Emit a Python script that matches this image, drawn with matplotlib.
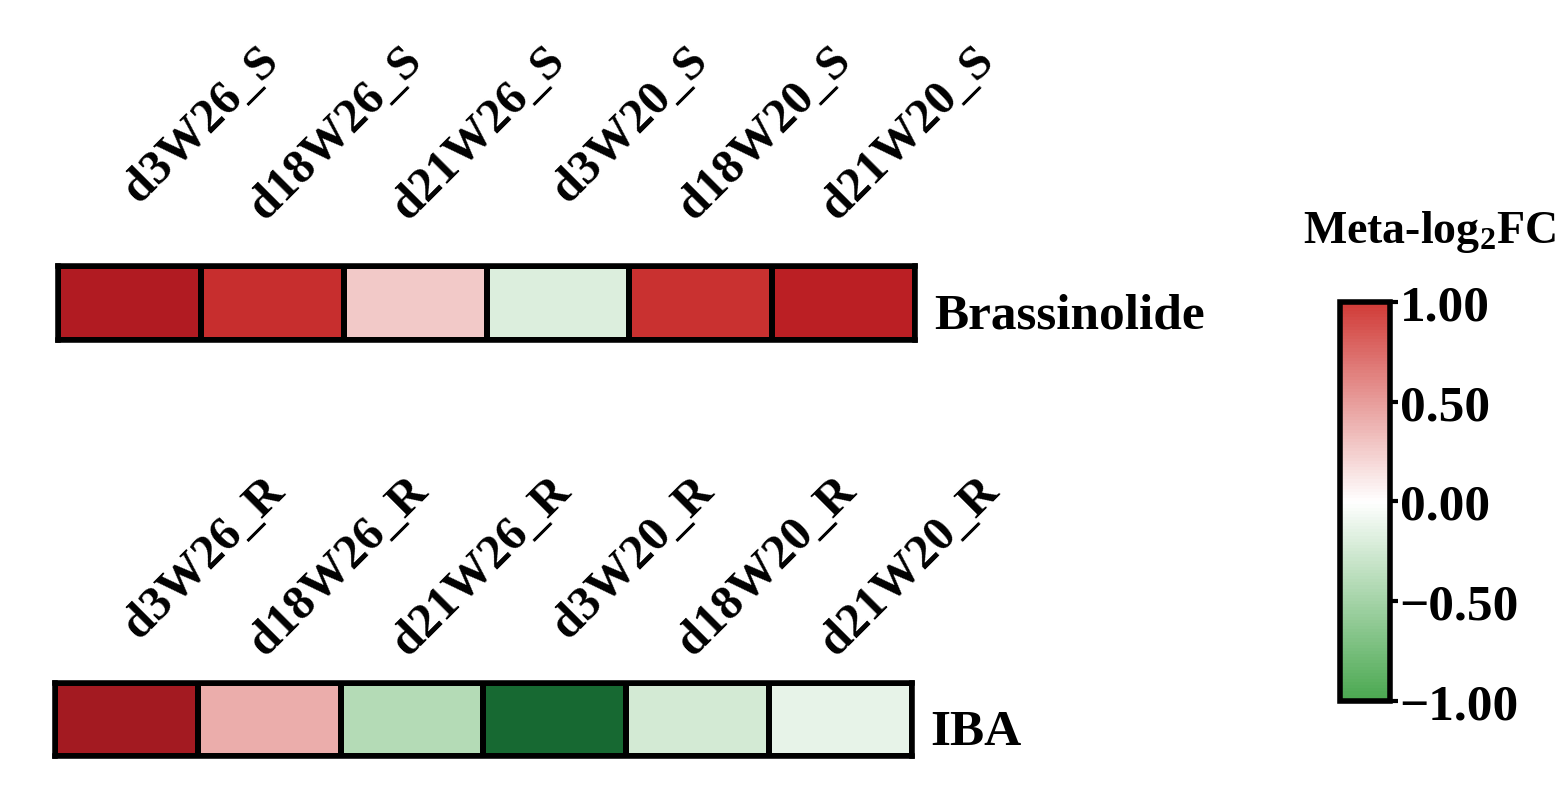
import numpy as np
import matplotlib
matplotlib.use("Agg")
import matplotlib.pyplot as plt
from matplotlib.colors import LinearSegmentedColormap, ListedColormap, Normalize
from matplotlib.cm import ScalarMappable

plt.rcParams['font.family'] = ['Liberation Serif', 'DejaVu Serif']
plt.rcParams['font.weight'] = 'bold'
plt.rcParams['mathtext.fontset'] = 'custom'
plt.rcParams['mathtext.rm'] = 'Liberation Serif:bold'
plt.rcParams['mathtext.it'] = 'Liberation Serif:bold'
plt.rcParams['mathtext.bf'] = 'Liberation Serif:bold'

# data (meta log2 fold change)
cols_s = ['d3W26_S', 'd18W26_S', 'd21W26_S', 'd3W20_S', 'd18W20_S', 'd21W20_S']
cols_r = ['d3W26_R', 'd18W26_R', 'd21W26_R', 'd3W20_R', 'd18W20_R', 'd21W20_R']
brassinolide = [1.6, 1.2, 0.27, -0.2, 1.15, 1.45]
iba = [1.8, 0.42, -0.42, -1.85, -0.24, -0.14]
cbar_ticks = [1.0, 0.5, 0.0, -0.5, -1.0]

# colour scale: green - white - red, darker beyond +-1
nodes = [(-2.0, (15, 95, 45)), (-1.0, (74, 168, 80)), (0.0, (255, 255, 255)),
         (1.0, (208, 58, 54)), (1.5, (185, 28, 34)), (2.0, (150, 25, 32))]
cmap = LinearSegmentedColormap.from_list(
    'gwr', [((v + 2) / 4, tuple(c / 255 for c in rgb)) for v, rgb in nodes])
norm = Normalize(-2, 2)

fig = plt.figure(figsize=(15.67, 8.03), dpi=100)

def draw_row(rect, values, labels, name, dx, dy):
    ax = fig.add_axes(rect)
    ax.pcolormesh(np.arange(len(values) + 1), [0, 1], np.array([values]),
                  cmap=cmap, norm=norm, edgecolors='black', linewidth=3)
    ax.set_xlim(0, len(values))
    ax.set_ylim(0, 1)
    ax.set_xticks([])
    ax.set_yticks([])
    for s in ax.spines.values():
        s.set_linewidth(4)
    # column labels: anchored at their end, rotated 45 degrees
    for i, lab in enumerate(labels):
        ax.text(i + dx, dy, lab, rotation=45, rotation_mode='anchor',
                ha='right', va='baseline', fontsize=35, fontweight='bold')
    ax.text(len(values) + 0.13, 0.17, name, ha='left', va='baseline',
            fontsize=37, fontweight='bold')
    return ax

draw_row([0.037, 0.575, 0.547, 0.092], brassinolide, cols_s, 'Brassinolide', 1.56, 3.77)
draw_row([0.035, 0.057, 0.547, 0.091], iba, cols_r, 'IBA', 1.62, 3.62)

# colour bar shows only the -1..1 part of the scale
cb_vals = np.linspace(-1, 1, 256)
cb_cmap = ListedColormap(cmap(norm(cb_vals)))
cax = fig.add_axes([0.855, 0.126, 0.032, 0.497])
cb = fig.colorbar(ScalarMappable(norm=Normalize(-1, 1), cmap=cb_cmap), cax=cax)
cb.outline.set_linewidth(4)
cb.set_ticks(cbar_ticks)
cb.set_ticklabels(['%.2f' % t if t >= 0 else '\u2212%.2f' % -t for t in cbar_ticks])
cax.tick_params(length=6, width=3, pad=1, labelsize=37)
for t in cax.get_yticklabels():
    t.set_fontweight('bold')
fig.text(0.912, 0.698, 'Meta-log$_2$FC', ha='center', va='baseline',
         fontsize=33, fontweight='bold')

fig.savefig('out.png', dpi=100, facecolor='white')
